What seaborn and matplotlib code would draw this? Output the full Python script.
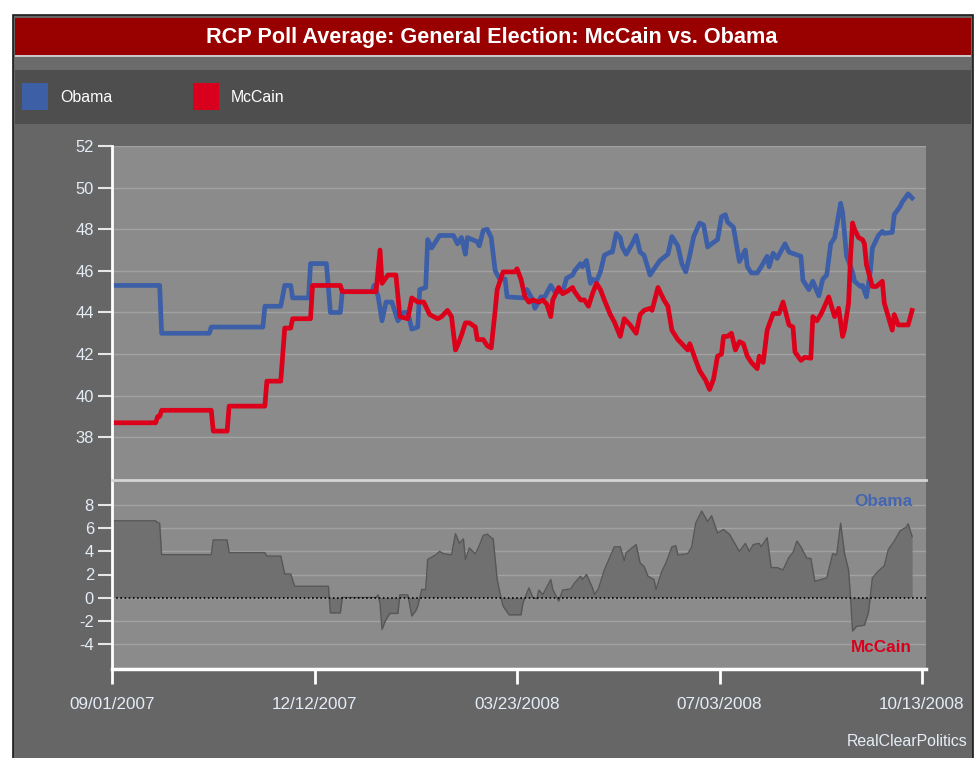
import pandas as pd
import seaborn as sns
import matplotlib.pyplot as plt
from matplotlib.patches import Rectangle
from matplotlib import font_manager

# RCP poll average (days after 09/01/2007, percent)
start = pd.Timestamp("2007-09-01")

obama_days = [0, 24, 25, 49, 50, 76, 77, 85, 87, 90, 91, 99, 100, 108, 110, 115, 116, 131, 132, 134,
              136, 138, 141, 144, 147, 149, 151, 154, 155, 158, 159, 161, 163, 165, 172, 174, 176, 178, 179, 184,
              185, 187, 189, 191, 193, 195, 198, 199, 207, 209, 212, 213, 216, 218, 221, 223, 227, 229, 232, 233,
              236, 237, 239, 241, 242, 244, 246, 248, 251, 252, 254, 256, 257, 259, 262, 264, 266, 268, 271, 272,
              276, 280, 282, 285, 287, 289, 291, 293, 296, 298, 300, 302, 305, 307, 309, 310, 313, 315, 316, 319,
              320, 322, 325, 327, 330, 331, 333, 335, 339, 341, 344, 347, 348, 351, 353, 356, 358, 360, 362, 364,
              367, 368, 370, 373, 374, 377, 378, 380, 382, 383, 386, 388, 389, 393, 394, 397, 398, 401, 403]
obama_pct = [45.3, 45.3, 43.0, 43.0, 43.3, 43.3, 44.3, 44.3, 45.3, 45.3, 44.7, 44.7, 46.35, 46.35, 44.0, 44.0, 45.0, 45.0, 45.3, 44.8,
             43.6, 44.5, 44.5, 43.6, 44.0, 44.0, 43.2, 43.3, 45.1, 45.2, 47.5, 47.1, 47.4, 47.7, 47.7, 47.3, 47.6, 46.8, 47.6, 47.4,
             47.2, 47.95, 48.0, 47.6, 46.0, 45.65, 45.6, 44.75, 44.7, 45.1, 44.6, 44.2, 44.75, 44.75, 45.3, 45.0, 45.0, 45.65, 45.8, 46.0,
             46.35, 46.2, 46.5, 45.4, 45.6, 45.5, 45.95, 46.75, 46.9, 46.9, 47.8, 47.6, 47.15, 46.8, 47.3, 47.7, 46.9, 46.75, 45.8, 45.95,
             46.5, 46.8, 47.65, 47.2, 46.35, 45.95, 46.75, 47.65, 48.3, 48.2, 47.15, 47.3, 47.5, 48.6, 48.7, 48.35, 48.1, 47.0, 46.45, 47.0,
             46.2, 45.9, 45.9, 46.2, 46.7, 46.2, 46.85, 46.6, 47.3, 46.9, 46.8, 46.7, 45.55, 45.1, 45.5, 44.8, 45.6, 45.8, 47.3, 47.6,
             49.25, 48.8, 46.7, 45.95, 45.5, 45.25, 45.3, 44.75, 46.0, 47.1, 47.7, 47.9, 47.8, 47.85, 48.7, 49.1, 49.3, 49.7, 49.5]

mccain_days = [0, 22, 23, 24, 25, 50, 51, 58, 59, 77, 78, 85, 87, 90, 91, 100, 101, 115, 116, 133,
               135, 136, 139, 143, 145, 149, 151, 154, 157, 160, 164, 166, 169, 171, 173, 174, 176, 178, 180, 183,
               184, 187, 189, 191, 193, 194, 197, 203, 204, 206, 208, 210, 212, 215, 217, 219, 221, 222, 225, 227,
               229, 232, 233, 236, 238, 240, 242, 244, 246, 248, 251, 253, 256, 258, 261, 264, 266, 268, 271, 272,
               275, 276, 278, 280, 282, 285, 287, 290, 291, 294, 296, 299, 301, 303, 305, 307, 308, 310, 312, 314,
               316, 318, 320, 322, 325, 326, 328, 330, 333, 336, 338, 341, 343, 344, 347, 349, 352, 353, 355, 357,
               358, 361, 363, 364, 366, 368, 369, 371, 372, 373, 374, 376, 378, 379, 380, 383, 385, 388, 389, 391,
               393, 394, 396, 398, 401, 403]
mccain_pct = [38.7, 38.7, 39.0, 39.0, 39.3, 39.3, 38.3, 38.3, 39.5, 39.5, 40.7, 40.7, 43.25, 43.25, 43.7, 43.7, 45.3, 45.3, 45.0, 45.0,
              47.0, 45.4, 45.8, 45.8, 43.8, 43.7, 44.7, 44.5, 44.5, 43.9, 43.7, 43.8, 44.1, 43.8, 42.2, 42.4, 42.9, 43.5, 43.5, 43.3,
              42.7, 42.7, 42.4, 42.3, 44.1, 45.1, 45.95, 45.95, 46.1, 45.6, 44.75, 44.5, 44.6, 44.5, 44.6, 44.4, 43.8, 44.6, 45.2, 44.9,
              45.0, 45.2, 45.0, 44.6, 44.6, 44.3, 44.9, 45.4, 45.1, 44.6, 43.9, 43.55, 42.85, 43.7, 43.4, 43.0, 43.9, 44.1, 44.2, 44.1,
              45.2, 45.0, 44.6, 44.3, 43.15, 42.7, 42.5, 42.2, 42.5, 41.7, 41.2, 40.75, 40.3, 40.8, 41.9, 42.0, 42.85, 42.85, 43.0, 42.2,
              42.6, 42.5, 41.9, 41.6, 41.3, 41.9, 41.6, 43.15, 43.95, 43.95, 44.5, 43.4, 43.3, 42.1, 41.7, 41.85, 41.8, 43.8, 43.6, 43.9,
              44.1, 44.75, 44.1, 43.8, 44.2, 42.85, 43.2, 44.45, 46.7, 48.3, 48.0, 47.6, 47.5, 47.3, 46.3, 45.25, 45.25, 45.5, 44.45, 43.8,
              43.15, 43.9, 43.4, 43.4, 43.4, 44.1]

spread_days = [0, 22, 23, 24, 25, 50, 51, 58, 59, 77, 78, 85, 87, 90, 92, 109, 110, 115, 116, 133,
               134, 135, 136, 138, 140, 144, 145, 149, 151, 153, 154, 156, 158, 159, 161, 163, 165, 167, 171, 173,
               175, 177, 178, 180, 183, 185, 187, 189, 191, 192, 194, 196, 197, 200, 206, 207, 210, 212, 214, 215,
               217, 221, 222, 225, 227, 231, 233, 236, 237, 239, 242, 243, 245, 248, 253, 256, 258, 259, 264, 266,
               268, 270, 273, 274, 277, 279, 282, 284, 285, 290, 292, 294, 297, 300, 302, 305, 308, 311, 316, 319,
               321, 323, 326, 327, 330, 332, 335, 338, 341, 343, 345, 347, 350, 352, 354, 357, 360, 363, 365, 367,
               369, 371, 372, 373, 375, 379, 381, 383, 386, 389, 391, 394, 397, 400, 401, 403]
spread_pts = [6.66, 6.66, 6.5, 6.45, 3.72, 3.72, 5.0, 5.0, 3.9, 3.9, 3.6, 3.6, 2.05, 2.05, 0.98, 0.98, -1.33, -1.33, 0.0, 0.0,
              0.23, -0.49, -2.77, -1.9, -1.38, -1.38, 0.23, 0.23, -1.6, -1.15, -0.75, 0.7, 0.7, 3.3, 3.5, 3.7, 4.0, 3.8, 3.7, 5.54,
              4.7, 5.1, 3.3, 4.3, 3.8, 4.5, 5.4, 5.5, 5.2, 5.1, 1.56, -0.05, -0.75, -1.5, -1.5, -0.46, 0.84, 0.0, -0.1, 0.65,
              0.26, 1.56, 0.7, -0.3, 0.65, 0.75, 1.27, 1.85, 1.56, 2.0, 0.85, 0.26, 0.75, 2.4, 4.4, 4.4, 3.2, 3.9, 4.6, 3.0,
              2.7, 1.85, 1.56, 0.7, 2.3, 3.0, 4.4, 4.5, 3.7, 3.8, 4.4, 6.45, 7.5, 6.6, 7.1, 5.6, 5.9, 5.5, 4.0, 4.7,
              4.0, 4.6, 4.7, 4.4, 5.2, 2.6, 2.6, 2.4, 3.5, 3.9, 4.9, 4.4, 3.4, 3.4, 1.4, 1.56, 1.7, 3.8, 3.7, 6.45,
              3.8, 2.4, 0.0, -2.9, -2.5, -2.4, -1.3, 1.7, 2.3, 2.75, 4.15, 4.9, 5.8, 6.1, 6.4, 5.3]

tick_labels = ["09/01/2007", "12/12/2007", "03/23/2008", "07/03/2008", "10/13/2008"]


def to_dates(days):
    return start + pd.to_timedelta(pd.Series(days, dtype=float), unit="D")


# narrow font like the original if we have it
try:
    font_manager.findfont("Liberation Sans Narrow", fallback_to_default=False)
    fam, k = "Liberation Sans Narrow", 1.0
except ValueError:
    fam, k = "Liberation Sans", 0.82
plt.rcParams["font.family"] = [fam, "DejaVu Sans"]
plt.rcParams["axes.unicode_minus"] = False

W, H = 976, 758
fig = plt.figure(figsize=(W / 100, H / 100), dpi=100, facecolor="white")


def box(x0, y0, x1, y1, **kw):
    fig.add_artist(Rectangle((x0 / W, 1 - y1 / H), (x1 - x0) / W, (y1 - y0) / H,
                             transform=fig.transFigure, zorder=-10, **kw))


# frame, title bar and legend band
box(13, 15, 973, 770, facecolor="#666666", edgecolor="#1a1a1a", lw=1.2)
box(15, 18, 971, 55, facecolor="#990000", edgecolor="none")
box(15, 55, 971, 57, facecolor="#c8c8c8", edgecolor="none")
box(15, 57, 971, 70, facecolor="#6b6b6b", edgecolor="none")
box(15, 70, 971, 124, facecolor="#4e4e4e", edgecolor="none")
box(22, 83, 48, 110, facecolor="#3d5fa6", edgecolor="none")
box(193, 83, 219, 110, facecolor="#d8001c", edgecolor="none")

fig.text(492 / W, 1 - 37 / H, "RCP Poll Average: General Election: McCain vs. Obama",
         ha="center", va="center", color="white", fontsize=19 * k, fontweight="bold")
fig.text(60 / W, 1 - 98 / H, "Obama", ha="left", va="center", color="white", fontsize=14 * k)
fig.text(231 / W, 1 - 98 / H, "McCain", ha="left", va="center", color="white", fontsize=14 * k)
fig.text(968 / W, 1 - 741 / H, "RealClearPolitics", ha="right", va="center",
         color="#e6edf6", fontsize=14 * k)

ax1 = fig.add_axes([112 / W, 1 - 480 / H, (926 - 112) / W, (480 - 146) / H])
ax2 = fig.add_axes([112 / W, 1 - 669 / H, (926 - 112) / W, (669 - 480) / H], sharex=ax1)

for ax in (ax1, ax2):
    ax.set_facecolor("#8b8b8b")
    ax.set_axisbelow(True)
    ax.grid(axis="y", color="#a2a2a2", lw=1)
    ax.grid(axis="x", visible=False)
    for s in ax.spines.values():
        s.set_visible(False)
    ax.spines["left"].set_visible(True)
    ax.spines["left"].set_color("white")
    ax.spines["left"].set_linewidth(2)
    ax.tick_params(axis="y", colors="#e6e6e6", labelcolor="#e4ecf6", length=10, width=1.5,
                   pad=3, labelsize=14.5 * k)

# top panel: the two poll averages
sns.lineplot(x=to_dates(obama_days), y=obama_pct, ax=ax1, color="#3d5fa8", lw=3.4,
             estimator=None, sort=False)
sns.lineplot(x=to_dates(mccain_days), y=mccain_pct, ax=ax1, color="#dc001b", lw=3.4,
             estimator=None, sort=False)
ax1.set_ylim(35.95, 52)
ax1.set_yticks(range(38, 53, 2))
ax1.tick_params(axis="x", bottom=False, labelbottom=False)
ax1.set_xlabel("")
ax1.set_ylabel("")

# bottom panel: spread
sd = to_dates(spread_days)
ax2.fill_between(sd, spread_pts, 0, color="#707070", lw=0)
sns.lineplot(x=sd, y=spread_pts, ax=ax2, color="#575757", lw=1, estimator=None, sort=False)
ax2.axhline(0, color="black", lw=1.2, ls=(0, (1, 1.5)))
ax2.set_ylim(-6.2, 10.2)
ax2.set_yticks(range(-4, 9, 2))
ax2.spines["top"].set_visible(True)
ax2.spines["top"].set_color("#d4d4d4")
ax2.spines["top"].set_linewidth(2)
ax2.spines["bottom"].set_visible(True)
ax2.spines["bottom"].set_color("white")
ax2.spines["bottom"].set_linewidth(2.5)
ax2.set_xticks(pd.to_datetime(tick_labels, format="%m/%d/%Y"))
ax2.set_xticklabels(tick_labels)
ax2.tick_params(axis="x", colors="white", labelcolor="#e4ecf6", length=11, width=2,
                pad=9, labelsize=15 * k)
ax2.set_xlim(start, start + pd.Timedelta(days=410))
ax2.set_xlabel("")
ax2.set_ylabel("")

ax2.text((912 - 112) / 814, (669 - 502) / 189, "Obama", transform=ax2.transAxes, ha="right",
         va="center", color="#4466b0", fontsize=15 * k, fontweight="bold")
ax2.text((912 - 112) / 814, (669 - 648) / 189, "McCain", transform=ax2.transAxes, ha="right",
         va="center", color="#d8001c", fontsize=15 * k, fontweight="bold")

fig.savefig("out.png", dpi=100, facecolor="white")
